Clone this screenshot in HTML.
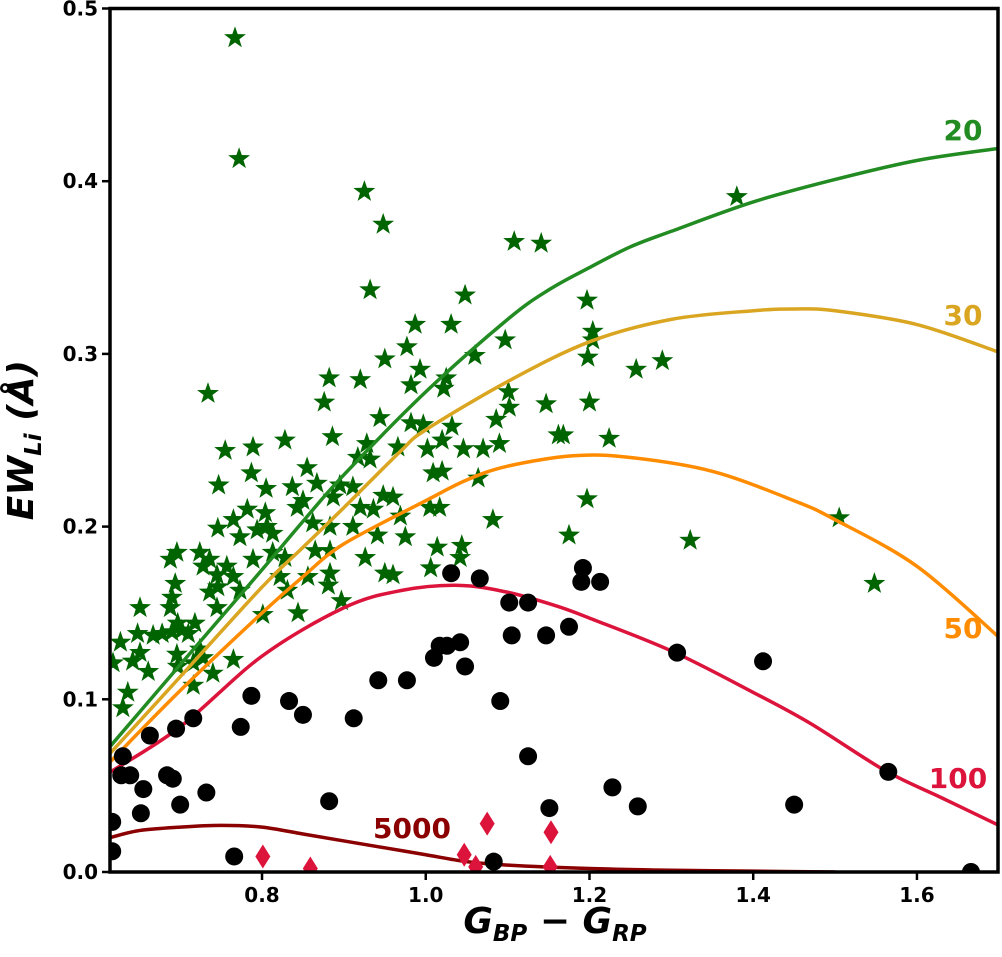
<!DOCTYPE html>
<html><head><meta charset="utf-8">
<style>
html,body{margin:0;padding:0;background:#fff;}
svg{display:block;font-family:"DejaVu Sans","Liberation Sans",sans-serif;}
</style></head>
<body>
<svg id="chart" width="1002" height="957" viewBox="0 0 1002 957" xmlns="http://www.w3.org/2000/svg">
<g id="plot"></g>
</svg>
<script>
// ---- data ----
const starX = [.767,.772,.734,.755,.789,.828,.787,.747,.805,.837,.843,.782,.804,.765,.746,.794,.806,.813,.773,.696,.688,.724,.736,.728,.757,.765,.745,.789,.813,.828,.822,.694,.690,.688,.736,.746,.773,.831,.651,.844,.801,.745,.697,.718,.627,.648,.667,.678,.702,.690,.710,.651,.642,.661,.618,.696,.724,.728,.716,.765,.697,.740,.716,.636,.630,
.925,.948,1.108,1.141,.932,1.048,.987,1.031,1.097,.977,.950,1.060,.882,.920,.993,.982,1.025,1.022,.876,1.101,1.102,1.147,.944,1.086,.886,.982,.997,1.032,1.162,.928,.966,1.002,1.020,1.046,1.070,1.090,.855,.932,.917,1.009,1.020,.867,.895,.911,1.064,.850,.887,.920,.948,.960,1.005,1.017,.936,.969,1.082,.862,.883,.911,.941,.975,.865,.883,1.014,1.044,1.042,.926,1.006,.950,.960,.856,.883,.881,.897,
1.380,1.197,1.204,1.204,1.198,1.257,1.289,1.200,1.168,1.224,1.197,1.175,1.323,1.505,1.548];
const starY = [.483,.413,.277,.244,.246,.250,.231,.224,.222,.223,.211,.210,.208,.204,.199,.198,.200,.196,.194,.185,.181,.185,.181,.177,.177,.171,.172,.181,.185,.182,.171,.167,.159,.153,.162,.165,.163,.163,.153,.150,.149,.153,.144,.144,.133,.138,.137,.138,.140,.139,.138,.127,.122,.116,.121,.126,.129,.124,.121,.123,.119,.115,.108,.104,.095,
.394,.375,.365,.364,.337,.334,.317,.317,.308,.304,.297,.299,.286,.285,.291,.282,.286,.280,.272,.278,.269,.271,.263,.262,.252,.260,.259,.258,.253,.248,.246,.245,.250,.245,.245,.248,.234,.239,.240,.231,.232,.225,.224,.223,.228,.215,.217,.211,.218,.217,.211,.211,.210,.206,.204,.202,.200,.200,.195,.194,.186,.186,.188,.189,.182,.182,.176,.173,.172,.171,.173,.166,.157,
.391,.331,.313,.308,.298,.291,.296,.272,.253,.251,.216,.195,.192,.205,.167];
const dotX = [1.031,1.066,1.102,1.125,1.105,1.147,1.017,1.026,1.042,1.010,1.048,.942,.977,.787,.833,.850,.912,1.091,.774,.716,.695,.663,.630,.628,.639,.684,.691,.655,.732,1.125,.652,.700,.882,1.151,.617,.617,.766,1.083,1.192,1.190,1.213,1.175,1.307,1.412,1.228,1.259,1.450,1.565,1.666];
const dotY = [.173,.170,.156,.156,.137,.137,.131,.131,.133,.124,.119,.111,.111,.102,.099,.091,.089,.099,.084,.089,.083,.079,.067,.056,.056,.056,.054,.048,.046,.067,.034,.039,.041,.037,.029,.012,.009,.006,.176,.168,.168,.142,.127,.122,.049,.038,.039,.058,.000];
const diaX = [.801,.859,1.047,1.061,1.075,1.153,1.152];
const diaY = [.009,.002,.010,.003,.028,.023,.003];
const c20X = [.615,.70,.80,.85,.90,1.0,1.1,1.15,1.2,1.25,1.3,1.4,1.5,1.6,1.7];
const c20Y = [.073,.120,.175,.203,.230,.278,.320,.337,.350,.362,.371,.388,.401,.412,.419];
const c30X = [.615,.70,.80,.85,.90,.97,1.0,1.1,1.2,1.3,1.4,1.45,1.5,1.6,1.7];
const c30Y = [.069,.113,.165,.188,.211,.244,.256,.284,.307,.320,.325,.326,.325,.317,.301];
const c50X = [.615,.70,.80,.85,.90,1.0,1.05,1.1,1.18,1.25,1.35,1.45,1.5,1.6,1.7];
const c50Y = [.064,.105,.150,.171,.190,.215,.227,.235,.241,.240,.232,.215,.204,.177,.136];
const c100X = [.615,.70,.80,.90,.97,1.04,1.1,1.16,1.2,1.3,1.4,1.47,1.56,1.63,1.7];
const c100Y = [.058,.084,.125,.153,.163,.166,.162,.154,.147,.128,.104,.086,.059,.043,.027];
const c5000X = [.615,.65,.70,.75,.80,.85,.90,.95,1.0,1.05,1.1,1.2,1.3,1.4,1.5];
const c5000Y = [.020,.024,.026,.027,.026,.022,.018,.014,.010,.006,.004,.002,.001,.0005,0];
const xTicks = [0.8,1.0,1.2,1.4,1.6];
const xTickLabels = ["0.8","1.0","1.2","1.4","1.6"];
const yTicks = [0,0.1,0.2,0.3,0.4,0.5];
const yTickLabels = ["0.0","0.1","0.2","0.3","0.4","0.5"];

// ---- axes ----
const X0=110, X1=998, Y0=872, Y1=8.5;
const xMin=0.6143, xMax=1.699, yMin=0, yMax=0.5;
const sx = v => X0 + (v-xMin)/(xMax-xMin)*(X1-X0);
const sy = v => Y0 - (v-yMin)/(yMax-yMin)*(Y0-Y1);
const NS="http://www.w3.org/2000/svg";
const g=document.getElementById('plot');
function mk(tag,attrs,parent){const e=document.createElementNS(NS,tag);for(const k in attrs)e.setAttribute(k,attrs[k]);(parent||g).appendChild(e);return e;}

const defs=mk('defs',{});
const cp=mk('clipPath',{id:'clip'},defs);
mk('rect',{x:X0,y:Y1,width:X1-X0,height:Y0-Y1},cp);
const inner=mk('g',{'clip-path':'url(#clip)'});



function starPath(cx,cy,R){const r=R*0.4;let d='';for(let i=0;i<10;i++){const a=-Math.PI/2+i*Math.PI/5;const rr=i%2?r:R;d+=(i?'L':'M')+(cx+rr*Math.cos(a)).toFixed(1)+' '+(cy+rr*Math.sin(a)).toFixed(1);}return d+'Z';}
for(let i=0;i<starX.length;i++){
  const p=mk('path',{d:starPath(sx(starX[i]),sy(starY[i]),11.5),fill:'#006400'},inner);
  
  
}
function smooth(xs,ys){const P=xs.map((x,i)=>[sx(x),sy(ys[i])]);let d='M'+P[0][0]+' '+P[0][1];for(let i=0;i<P.length-1;i++){const p0=P[Math.max(0,i-1)],p1=P[i],p2=P[i+1],p3=P[Math.min(P.length-1,i+2)];const c1=[p1[0]+(p2[0]-p0[0])/6,p1[1]+(p2[1]-p0[1])/6];const c2=[p2[0]-(p3[0]-p1[0])/6,p2[1]-(p3[1]-p1[1])/6];d+=' C'+c1.join(' ')+' '+c2.join(' ')+' '+p2.join(' ');}return d;}
const curves=[[c20X,c20Y,'#228B22','curve-20'],[c30X,c30Y,'#DAA520','curve-30'],[c50X,c50Y,'#FF8C00','curve-50'],[c100X,c100Y,'#DC143C','curve-100'],[c5000X,c5000Y,'#8B0000','curve-5000']];
for(const c of curves){
  const p=mk('path',{d:smooth(c[0],c[1]),fill:'none',stroke:c[2],'stroke-width':3.5},inner);
  
  
}
for(let i=0;i<dotX.length;i++){
  const p=mk('circle',{cx:sx(dotX[i]),cy:sy(dotY[i]),r:9,fill:'#000'},inner);
  
  
}
for(let i=0;i<diaX.length;i++){
  const cx=sx(diaX[i]),cy=sy(diaY[i]);
  const p=mk('path',{d:`M${cx} ${cy-12}L${cx+7.5} ${cy}L${cx} ${cy+12}L${cx-7.5} ${cy}Z`,fill:'#DC143C'},inner);
  
  
}
const labs=[['20',963,140,'#228B22'],['30',963,325,'#DAA520'],['50',963,638,'#FF8C00'],['100',958,788,'#DC143C'],['5000',412,838,'#8B0000']];
for(const l of labs){
  const t=mk('text',{x:l[1],y:l[2],fill:l[3],'font-size':28,'font-weight':'bold','text-anchor':'middle'});
  t.textContent=l[0];
  
  
}
const fr=mk('rect',{x:X0,y:Y1,width:X1-X0,height:Y0-Y1,fill:'none',stroke:'#000','stroke-width':3.5});


for(let i=0;i<xTicks.length;i++){
  const x=sx(xTicks[i]);
  const tk=mk('line',{x1:x,x2:x,y1:Y0,y2:Y0+8,stroke:'#000','stroke-width':2.5});
  
  
  const t=mk('text',{x:x,y:Y0+30,'font-size':20,'font-weight':'bold','text-anchor':'middle'});
  t.textContent=xTickLabels[i];
  
  
}
for(let i=0;i<yTicks.length;i++){
  const y=sy(yTicks[i]);
  const tk=mk('line',{x1:X0-8,x2:X0,y1:y,y2:y,stroke:'#000','stroke-width':2.5});
  
  
  const t=mk('text',{x:X0-12,y:y+7,'font-size':20,'font-weight':'bold','text-anchor':'end'});
  t.textContent=yTickLabels[i];
  
  
}
</script>
<div style="position:absolute;left:415px;top:902px;width:280px;text-align:center;font-family:'DejaVu Sans',sans-serif;font-weight:bold;font-style:italic;font-size:36px;line-height:40px;">G<sub style="font-size:23px">BP</sub> − G<sub style="font-size:23px">RP</sub></div>
<div style="position:absolute;left:-112px;top:414px;width:280px;text-align:center;transform:rotate(-90deg);font-family:'DejaVu Sans',sans-serif;font-weight:bold;font-style:italic;font-size:36px;line-height:40px;">EW<sub style="font-size:23px">Li</sub> (Å)</div>
</body></html>
